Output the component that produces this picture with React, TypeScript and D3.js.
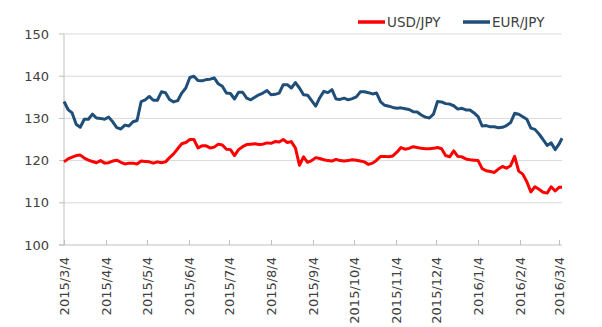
import React from "react";
import * as d3 from "d3";

const startDate = "2015-03-04";
const endDate = "2016-03-06";
const stepDays = 3;

const usdJpy = [
  119.7, 120.4, 120.8, 121.2, 121.3, 120.6, 120.1, 119.8, 119.5, 120.0,
  119.4, 119.5, 119.9, 120.1, 119.6, 119.2, 119.4, 119.4, 119.2, 119.9,
  119.8, 119.7, 119.4, 119.7, 119.5, 119.7, 120.7, 121.6, 122.8, 124.0,
  124.3, 125.0, 125.0, 123.0, 123.5, 123.5, 123.0, 123.2, 123.9, 123.7,
  122.7, 122.6, 121.2, 122.6, 123.3, 123.8, 123.9, 124.0, 123.8, 123.9,
  124.2, 124.1, 124.5, 124.4, 125.0, 124.3, 124.5, 123.0, 118.9, 120.9,
  119.6, 120.0, 120.7, 120.5, 120.2, 120.0, 119.9, 120.3, 120.0, 119.9,
  120.0, 120.2, 120.1, 119.9, 119.7, 119.1, 119.4, 120.1, 121.0, 121.0,
  120.9, 121.1, 122.0, 123.1, 122.7, 122.9, 123.3, 123.1, 122.9, 122.8,
  122.8, 122.9, 123.1, 122.8, 121.2, 120.9, 122.3, 121.0, 120.9, 120.4,
  120.2, 120.1, 120.0, 118.1, 117.6, 117.4, 117.2, 118.0, 118.6, 118.2,
  118.8, 121.0, 117.5, 116.8, 115.0, 112.6, 113.8, 113.2, 112.5, 112.3,
  113.8, 112.8, 113.7, 113.7,
];

const eurJpy = [
  134.0, 132.1, 131.3, 128.6, 127.9, 129.8, 129.8, 131.0, 130.1, 130.0,
  129.8, 130.3, 129.2, 127.8, 127.5, 128.4, 128.2, 129.2, 129.5, 134.0,
  134.4, 135.2, 134.3, 134.3, 136.3, 136.1, 134.5, 133.9, 134.2, 136.0,
  137.2, 139.7, 140.0, 139.0, 138.9, 139.2, 139.3, 139.6, 138.2, 137.6,
  136.0, 135.9, 134.6, 136.2, 136.2, 134.8, 134.4, 135.0, 135.6, 136.0,
  136.6, 135.6, 135.7, 136.0, 138.0, 138.0, 137.2, 138.5, 137.2, 135.6,
  135.5, 134.2, 132.9, 134.9, 136.4, 136.1, 136.8, 134.6, 134.5, 134.8,
  134.4, 134.7, 135.1, 136.3, 136.3, 136.1, 135.8, 136.0, 133.9, 133.1,
  132.9, 132.6, 132.4, 132.5, 132.3, 132.1, 131.6, 131.5, 130.8, 130.3,
  130.1, 131.0, 134.0, 133.9, 133.5, 133.4, 133.0, 132.2, 132.4, 132.0,
  132.0, 131.3, 130.4, 128.2, 128.3, 128.0, 128.0, 127.8, 127.9, 128.3,
  129.0, 131.2, 131.0, 130.4, 129.8, 127.7, 127.4, 126.3, 125.0, 123.6,
  124.2, 122.6, 124.0, 125.3,
];

const yTicks = [100, 110, 120, 130, 140, 150];
const xTickLabels = [
  "2015/3/4", "2015/4/4", "2015/5/4", "2015/6/4", "2015/7/4", "2015/8/4",
  "2015/9/4", "2015/10/4", "2015/11/4", "2015/12/4", "2016/1/4", "2016/2/4",
  "2016/3/4",
];
const seriesNames = ["USD/JPY", "EUR/JPY"];
const seriesColors = ["#ff0000", "#1f4e79"];

const parse = (s: string) => {
  const [y, m, d] = s.split(/[-\/]/).map(Number);
  return new Date(y, m - 1, d);
};

export default function App() {
  const W = 602, H = 327;
  const left = 64, right = 562, top = 34, bottom = 245;
  const start = parse(startDate);
  const end = parse(endDate);
  const x = d3.scaleTime().domain([start, end]).range([left, right]);
  const y = d3.scaleLinear().domain([100, 150]).range([bottom, top]);

  const dates = usdJpy.map((_, i) => {
    const d = d3.timeDay.offset(start, i * stepDays);
    return d > end ? end : d;
  });
  const line = d3
    .line<number>()
    .x((_, i) => x(dates[i]))
    .y((v) => y(v))
    .curve(d3.curveLinear);

  const font = "'DejaVu Sans', Verdana, sans-serif";
  const textColor = "#404040";

  return (
    <svg
      width={W}
      height={H}
      style={{ position: "absolute", left: 0, top: 0, background: "#fff" }}
      fontFamily={font}
    >
      {yTicks.map((t) => (
        <g key={t}>
          {t !== 100 && (
            <line x1={left} x2={right} y1={y(t)} y2={y(t)} stroke="#d9d9d9" strokeWidth={1} />
          )}
          <line x1={left - 5} x2={left} y1={y(t)} y2={y(t)} stroke="#bfbfbf" strokeWidth={1} />
          <text x={49} y={y(t)} dy="0.36em" textAnchor="end" fontSize={13} fill={textColor}>
            {t}
          </text>
        </g>
      ))}
      <line x1={left} x2={left} y1={top} y2={bottom} stroke="#bfbfbf" strokeWidth={1} />
      <line x1={left - 5} x2={right} y1={bottom} y2={bottom} stroke="#bfbfbf" strokeWidth={1} />
      {xTickLabels.map((lab) => {
        const tx = Math.round(x(parse(lab))) + 0.5;
        return (
          <g key={lab}>
            <line x1={tx} x2={tx} y1={bottom - 5} y2={bottom} stroke="#bfbfbf" strokeWidth={1} />
            <text
              transform={`translate(${tx},${bottom + 12}) rotate(-90)`}
              dy="0.36em"
              textAnchor="end"
              fontSize={13}
              fill={textColor}
            >
              {lab}
            </text>
          </g>
        );
      })}
      <path d={line(usdJpy) || ""} fill="none" stroke={seriesColors[0]} strokeWidth={3} strokeLinejoin="round" />
      <path d={line(eurJpy) || ""} fill="none" stroke={seriesColors[1]} strokeWidth={3} strokeLinejoin="round" />
      {seriesNames.map((n, i) => {
        const lx = [358, 463][i];
        return (
          <g key={n}>
            <line x1={lx} x2={lx + 27} y1={22} y2={22} stroke={seriesColors[i]} strokeWidth={3.5} />
            <text x={lx + 29} y={22} dy="0.36em" fontSize={13.5} fill={textColor}>
              {n}
            </text>
          </g>
        );
      })}
    </svg>
  );
}
